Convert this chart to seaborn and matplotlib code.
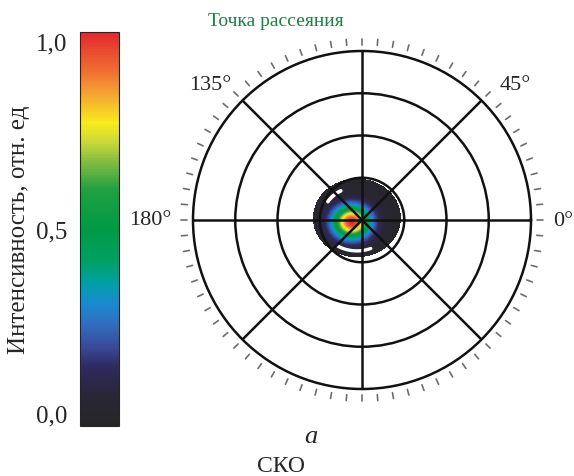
import numpy as np
import matplotlib
matplotlib.use("Agg")
import matplotlib.pyplot as plt
import seaborn as sns
from matplotlib.colors import LinearSegmentedColormap, Normalize
from matplotlib.cm import ScalarMappable

# colour scale (value, colour)
cmap_pos = [0.0, 0.08, 0.15, 0.20, 0.26, 0.31, 0.36, 0.42, 0.50, 0.60, 0.68, 0.72, 0.77, 0.84, 0.90, 1.0]
cmap_col = ["#262626", "#2a2638", "#2e2a60", "#3a4a9a", "#2f6fc0", "#1a8ad0", "#00a0a8", "#00a060",
            "#009a45", "#20a040", "#90c040", "#c8d83a", "#f7ec1c", "#f5a832", "#f07030", "#e3282e"]
cbar_ticks = [0.0, 0.5, 1.0]
cbar_labels = ["0,0", "0,5", "1,0"]

# polar grid
ring_radii = [1, 2, 3, 4]
spoke_angles = [0, 45, 90, 135, 180, 225, 270, 315]
minor_tick_step = 5
# label, angle, radius, ha, va
angle_labels = [("0°", 0, 4.52, "left", "center"),
                ("45°", 43.5, 4.5, "left", "baseline"),
                ("135°", 135, 4.37, "right", "baseline"),
                ("180°", 180, 4.5, "right", "center")]

# scattering spot (in ring units)
disk_center = (-0.12, 0.05)
disk_axes = (1.04, 0.93)
disk_level = 0.03
spot_center = (-0.24, -0.05)
spot_sigma = (0.31, 0.27)
spot_peak = 0.97

sns.set_style("white")
plt.rcParams['font.family'] = ['Liberation Serif', 'DejaVu Serif']

cmap = LinearSegmentedColormap.from_list("spot", list(zip(cmap_pos, cmap_col)))
norm = Normalize(0, 1)

fig = plt.figure(figsize=(5.74, 4.77), dpi=100)

# polar panel
ax = fig.add_axes([193 / 574, 87 / 477, 338 / 574, 338 / 477], projection="polar")
th = np.linspace(0, 2 * np.pi, 721)
rr = np.linspace(0, 1.3, 260)
T, R = np.meshgrid(th, rr)
X, Y = R * np.cos(T), R * np.sin(T)
inside = ((X - disk_center[0]) / disk_axes[0]) ** 2 + ((Y - disk_center[1]) / disk_axes[1]) ** 2 <= 1
field = disk_level + spot_peak * np.exp(-((X - spot_center[0]) ** 2 / (2 * spot_sigma[0] ** 2)
                                          + (Y - spot_center[1]) ** 2 / (2 * spot_sigma[1] ** 2)))
field = np.ma.masked_where(~inside, field)
ax.pcolormesh(T, R, field, cmap=cmap, norm=norm, shading="nearest", zorder=1, rasterized=True)

# white glints on the dark disk
for a0, a1, f, w in [(118, 148, 0.78, 2.6), (238, 292, 0.84, 2.4)]:
    a = np.radians(np.linspace(a0, a1, 40))
    gx = disk_center[0] + f * disk_axes[0] * np.cos(a)
    gy = disk_center[1] + f * disk_axes[1] * np.sin(a)
    ax.plot(np.arctan2(gy, gx), np.hypot(gx, gy), color="white", lw=w, solid_capstyle="round", zorder=2)

ax.set_ylim(0, 4)
ax.set_yticks([1, 2, 3])
ax.set_yticklabels([])
ax.set_xticks(np.radians(spoke_angles))
ax.set_xticklabels([])
ax.grid(True, color="#111111", lw=1.8)
ax.set_axisbelow(False)
for gl in ax.get_xgridlines() + ax.get_ygridlines():
    gl.set_zorder(3)
ax.spines["polar"].set_linewidth(1.8)
ax.spines["polar"].set_color("#111111")
ax.tick_params(length=0)

for deg in range(0, 360, minor_tick_step):
    ax.plot([np.radians(deg)] * 2, [4.15, 4.29], color="#6e6e6e", lw=1.2, clip_on=False)

for lab, deg, r, ha, va in angle_labels:
    ax.text(np.radians(deg), r, lab, fontsize=16, ha=ha, va=va)

# colour bar
cax = fig.add_axes([80 / 574, 50 / 477, 39 / 574, 394 / 477])
cb = fig.colorbar(ScalarMappable(norm=norm, cmap=cmap), cax=cax)
cb.outline.set_linewidth(0.8)
cax.yaxis.set_ticks_position("left")
cax.set_yticks(cbar_ticks)
cax.set_yticklabels(cbar_labels, fontsize=18)
cax.tick_params(length=0, pad=9)
tl = cax.get_yticklabels()
tl[0].set_va("bottom")
tl[2].set_va("top")

fig.text(19 / 574, 1 - 230 / 477, "Интенсивность, отн. ед", rotation=90, fontsize=18,
         ha="center", va="center")
fig.text(208 / 574, 1 - 22 / 477, "Точка рассеяния", color="#1f7f45", fontsize=14,
         ha="left", va="center")
fig.text(311 / 574, 1 - 437 / 477, "a", fontsize=19, style="italic", ha="center", va="center")
fig.text(281 / 574, 1 - 467 / 477, "СКО", fontsize=17, ha="center", va="center")

fig.savefig("out.png", dpi=100)
